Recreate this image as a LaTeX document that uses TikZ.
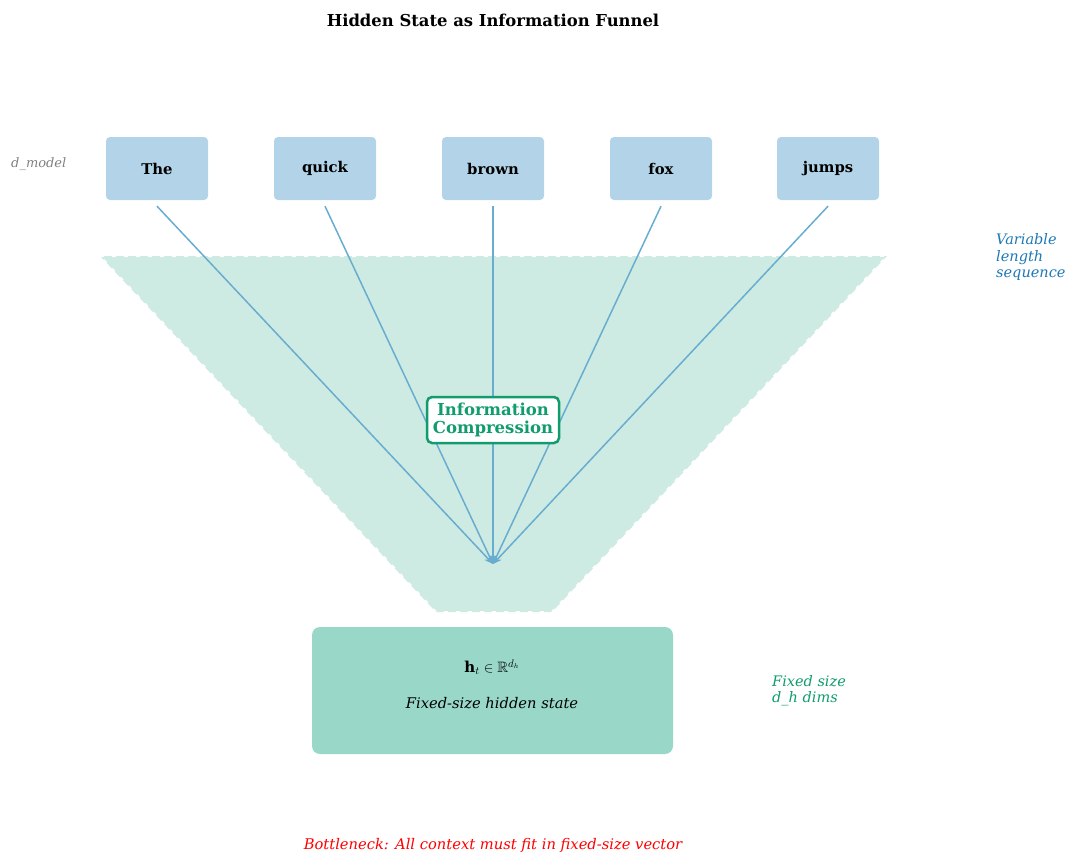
\documentclass[tikz,border=0pt]{standalone}
\usepackage{fontspec}
\usepackage{amssymb}
\setmainfont{DejaVu Serif}
\usetikzlibrary{arrows.meta}
\definecolor{tokfill}{RGB}{179,212,232}
\definecolor{funfill}{RGB}{205,235,226}
\definecolor{hidfill}{RGB}{153,216,201}
\definecolor{arrcol}{RGB}{104,173,208}
\definecolor{grn}{RGB}{17,156,110}
\definecolor{blu}{RGB}{30,120,180}
\tikzset{
  tok/.style={fill=tokfill, rounded corners=4pt, minimum width=102pt, minimum height=63pt, inner sep=0pt, font=\fontsize{14.8}{17}\selectfont\bfseries},
  flow/.style={draw=arrcol, line width=1.5pt, -{Stealth[length=9pt,width=7pt]}},
  sidelbl/.style={anchor=north west, align=left, inner sep=0pt, font=\fontsize{14.5}{16.5}\selectfont\itshape},
}
\begin{document}
\begin{tikzpicture}[x=1pt,y=-1pt]
\useasboundingbox (0,0) rectangle (1072,852);
% title
\node[font=\fontsize{16.4}{19}\selectfont\bfseries] (title) at (493,20.5) {Hidden State as Information Funnel};
% funnel
\fill[funfill] (100,256) -- (887,256) -- (552,612) -- (436,612) -- cycle;
\draw[white, line width=2pt, dash pattern=on 4pt off 8pt] (100,256) -- (887,256) -- (552,612) -- (436,612) -- cycle;
% tokens
\node[tok] (t1) at (157,168.5) {The};
\node[tok] (t2) at (325,168.5) {quick};
\node[tok] (t3) at (493,168.5) {brown};
\node[tok] (t4) at (661,168.5) {fox};
\node[tok] (t5) at (828,168.5) {jumps};
\coordinate (conv) at (493,564);
\foreach \t in {t1,t2,t3,t4,t5} {
  \draw[flow] ([yshift=-6pt]\t.south) -- (conv);
}
% compression label
\node[draw=grn, line width=2.5pt, fill=white, rounded corners=5pt, align=center, text=grn, inner sep=4pt, font=\fontsize{16.5}{18}\selectfont\bfseries, minimum width=132pt, minimum height=46pt] (comp) at (493,420) {Information\\Compression};
% hidden state
\node[fill=hidfill, rounded corners=8pt, minimum width=361pt, minimum height=127pt] (hid) at (492.5,690.5) {};
\node[font=\fontsize{15}{17}\selectfont] (math) at (492,667) {$\mathbf{h}_t \in \mathbb{R}^{d_h}$};
\node[font=\fontsize{14.7}{17}\selectfont\itshape] (hidlbl) at (492,703.5) {Fixed-size hidden state};
% side labels
\node[anchor=west, inner sep=0pt, text=gray, font=\fontsize{13}{15}\selectfont\itshape] (dm) at (11,164.5) {d\_model};
\node[sidelbl, text=blu] (var) at (996,233.5) {Variable\\length\\sequence};
\node[sidelbl, text=grn] (fix) at (772,675) {Fixed size\\d\_h dims};
% bottom
\node[text=red, font=\fontsize{14.7}{17}\selectfont\itshape] (bott) at (493,845.5) {Bottleneck: All context must fit in fixed-size vector};
\end{tikzpicture}
\end{document}
